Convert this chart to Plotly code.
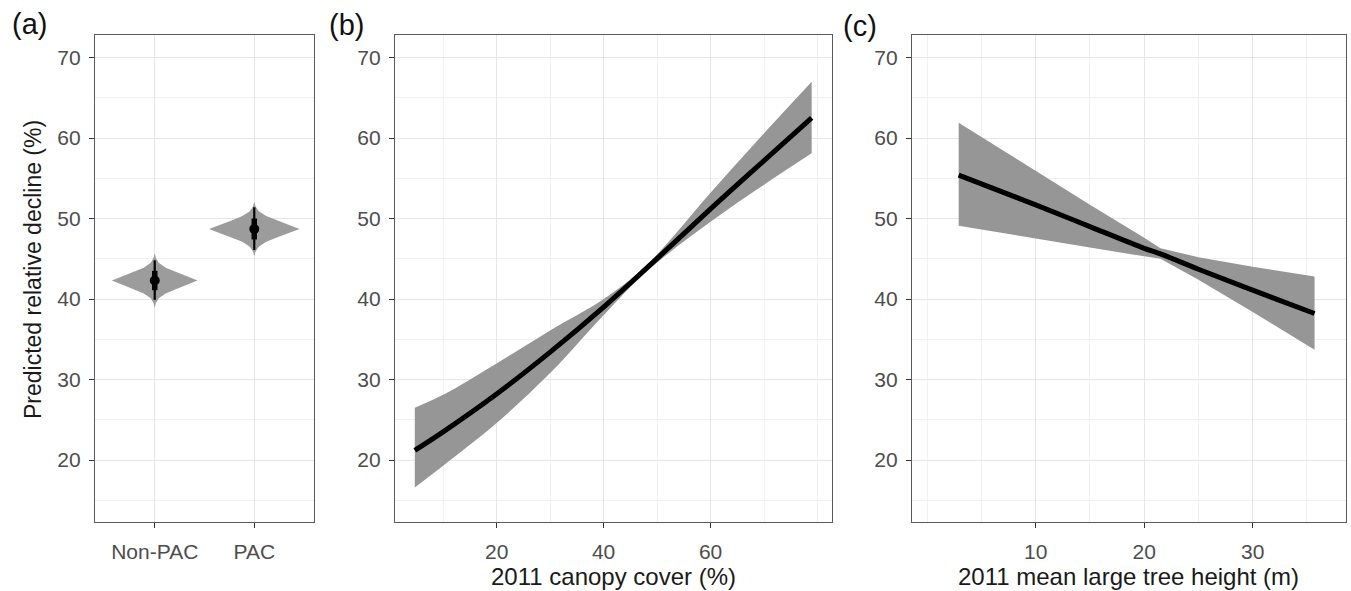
import plotly.graph_objects as go

W, H = 1351, 591

# ---------------- data ----------------
# panel (a): posterior distributions by group
groups = ["Non-PAC", "PAC"]
group_median = [42.3, 48.7]
group_q66_lo = [41.1, 47.4]
group_q66_hi = [43.5, 50.0]
group_q95_lo = [39.9, 46.1]
group_q95_hi = [44.8, 51.4]
violin_dy = [-3.4, -2.8, -2.2, -1.6, -1.0, -0.5, 0.0, 0.5, 1.0, 1.6, 2.2, 2.8, 3.4]
nonpac_halfwidth = [0.0, 0.012, 0.04, 0.11, 0.23, 0.33, 0.43, 0.33, 0.23, 0.11, 0.04, 0.012, 0.0]
pac_halfwidth = [0.0, 0.013, 0.045, 0.12, 0.24, 0.35, 0.455, 0.35, 0.24, 0.12, 0.045, 0.013, 0.0]

# panel (b): canopy cover
canopy_x = [4.7, 10, 20, 30, 40, 48, 60, 70, 78.9]
canopy_fit = [21.2, 23.5, 28.2, 33.4, 39.0, 43.8, 51.2, 57.2, 62.5]
canopy_lo = [16.6, 19.3, 24.6, 30.8, 38.0, 43.4, 49.6, 54.2, 58.1]
canopy_hi = [26.5, 28.1, 32.0, 36.1, 40.0, 44.2, 53.2, 60.6, 67.0]

# panel (c): mean large tree height
height_x = [2.9, 10, 15, 20, 21.5, 25, 30, 35.7]
height_fit = [55.4, 51.7, 49.0, 46.3, 45.6, 43.7, 41.1, 38.2]
height_lo = [49.1, 47.5, 46.4, 45.3, 45.0, 42.4, 38.4, 33.7]
height_hi = [61.9, 55.9, 51.7, 47.6, 46.3, 45.2, 44.0, 42.8]

y_ticks = [20, 30, 40, 50, 60, 70]
canopy_ticks = [20, 40, 60]
height_ticks = [10, 20, 30]

# ---------------- style ----------------
FONT = "Liberation Sans, Arial, Helvetica, sans-serif"
RIBBON = "#969696"
VIOLIN = "#9c9c9c"
TICKCOL = "#4d4d4d"

def px_x(p):
    return p / W

def px_y(p):
    return 1 - p / H

fig = go.Figure()

# panel (a)
for i, g in enumerate(groups):
    hw = nonpac_halfwidth if i == 0 else pac_halfwidth
    ys = [group_median[i] + d for d in violin_dy]
    xs_right = [i + w for w in hw]
    xs_left = [i - w for w in hw]
    fig.add_trace(go.Scatter(
        x=xs_right + xs_left[::-1], y=ys + ys[::-1],
        fill="toself", fillcolor=VIOLIN, line=dict(width=0, color=VIOLIN),
        mode="lines", hoverinfo="skip", showlegend=False, xaxis="x", yaxis="y"))
    fig.add_trace(go.Scatter(
        x=[i, i], y=[group_q95_lo[i], group_q95_hi[i]], mode="lines",
        line=dict(color="black", width=2.2), showlegend=False, xaxis="x", yaxis="y"))
    fig.add_trace(go.Scatter(
        x=[i, i], y=[group_q66_lo[i], group_q66_hi[i]], mode="lines",
        line=dict(color="black", width=5.5), showlegend=False, xaxis="x", yaxis="y"))
    fig.add_trace(go.Scatter(
        x=[i], y=[group_median[i]], mode="markers",
        marker=dict(color="black", size=10), showlegend=False, xaxis="x", yaxis="y"))

# panel (b)
fig.add_trace(go.Scatter(
    x=canopy_x, y=canopy_lo, mode="lines", line=dict(width=0, color=RIBBON, shape="spline"),
    hoverinfo="skip", showlegend=False, xaxis="x2", yaxis="y2"))
fig.add_trace(go.Scatter(
    x=canopy_x, y=canopy_hi, mode="lines", fill="tonexty", fillcolor=RIBBON,
    line=dict(width=0, color=RIBBON, shape="spline"),
    hoverinfo="skip", showlegend=False, xaxis="x2", yaxis="y2"))
fig.add_trace(go.Scatter(
    x=canopy_x, y=canopy_fit, mode="lines", line=dict(color="black", width=5, shape="spline"),
    showlegend=False, xaxis="x2", yaxis="y2"))

# panel (c)
fig.add_trace(go.Scatter(
    x=height_x + height_x[::-1], y=height_hi + height_lo[::-1],
    fill="toself", fillcolor=RIBBON, line=dict(width=0, color=RIBBON),
    mode="lines", hoverinfo="skip", showlegend=False, xaxis="x3", yaxis="y3"))
fig.add_trace(go.Scatter(
    x=height_x, y=height_fit, mode="lines", line=dict(color="black", width=5, shape="spline"),
    showlegend=False, xaxis="x3", yaxis="y3"))

axis_common = dict(
    showline=True, mirror=True, linecolor="#5a5a5a", linewidth=1.3,
    ticks="outside", ticklen=5, tickwidth=1.2, tickcolor="#333333",
    tickfont=dict(family=FONT, size=21, color=TICKCOL),
    showgrid=True, gridcolor="#e6e6e6", gridwidth=1.2, zeroline=False,
)
minor_grid = dict(showgrid=True, gridcolor="#f1f1f1", gridwidth=0.8, ticks="")

y_dom = [px_y(522), px_y(35)]
layout_axes = {}
x_domains = [(95, 314), (395, 832), (912, 1346)]
for k, (l, r) in enumerate(x_domains):
    sx = "" if k == 0 else str(k + 1)
    layout_axes["yaxis" + sx] = dict(
        axis_common, domain=y_dom, range=[12.3, 72.8], tickvals=y_ticks,
        anchor="x" + sx, ticklabelstandoff=4,
        minor=dict(minor_grid, tick0=0, dtick=5))
layout_axes["xaxis"] = dict(
    axis_common, domain=[px_x(95), px_x(314)], range=[-0.6, 1.6],
    tickvals=[0, 1], ticktext=groups, anchor="y", ticklabelstandoff=6)
layout_axes["xaxis2"] = dict(
    axis_common, domain=[px_x(395), px_x(832)], range=[1.0, 82.7],
    tickvals=canopy_ticks, anchor="y2", ticklabelstandoff=6,
    minor=dict(minor_grid, tick0=0, dtick=10))
layout_axes["xaxis3"] = dict(
    axis_common, domain=[px_x(912), px_x(1346)], range=[-1.4, 38.6],
    tickvals=height_ticks, anchor="y3", ticklabelstandoff=6,
    minor=dict(minor_grid, tick0=0, dtick=5))

annotations = [
    dict(text="Predicted relative decline (%)", x=px_x(33), y=px_y(270), textangle=-90,
         font=dict(family=FONT, size=23, color="#1a1a1a")),
    dict(text="2011 canopy cover (%)", x=px_x(613), y=px_y(576),
         font=dict(family=FONT, size=24, color="#1a1a1a")),
    dict(text="2011 mean large tree height (m)", x=px_x(1128), y=px_y(576),
         font=dict(family=FONT, size=24, color="#1a1a1a")),
    dict(text="(a)", x=px_x(29), y=px_y(24), font=dict(family=FONT, size=29, color="#111111")),
    dict(text="(b)", x=px_x(346), y=px_y(25), font=dict(family=FONT, size=29, color="#111111")),
    dict(text="(c)", x=px_x(860), y=px_y(26), font=dict(family=FONT, size=29, color="#111111")),
]
for a in annotations:
    a.update(xref="paper", yref="paper", showarrow=False, xanchor="center", yanchor="middle")

fig.update_layout(
    width=W, height=H, margin=dict(l=0, r=0, t=0, b=0),
    paper_bgcolor="white", plot_bgcolor="white",
    annotations=annotations, showlegend=False, **layout_axes)

fig.write_html(
    "out.html",
    config={"displayModeBar": False},
    post_script="document.body.style.margin='0px';document.body.style.overflow='hidden';",
)
